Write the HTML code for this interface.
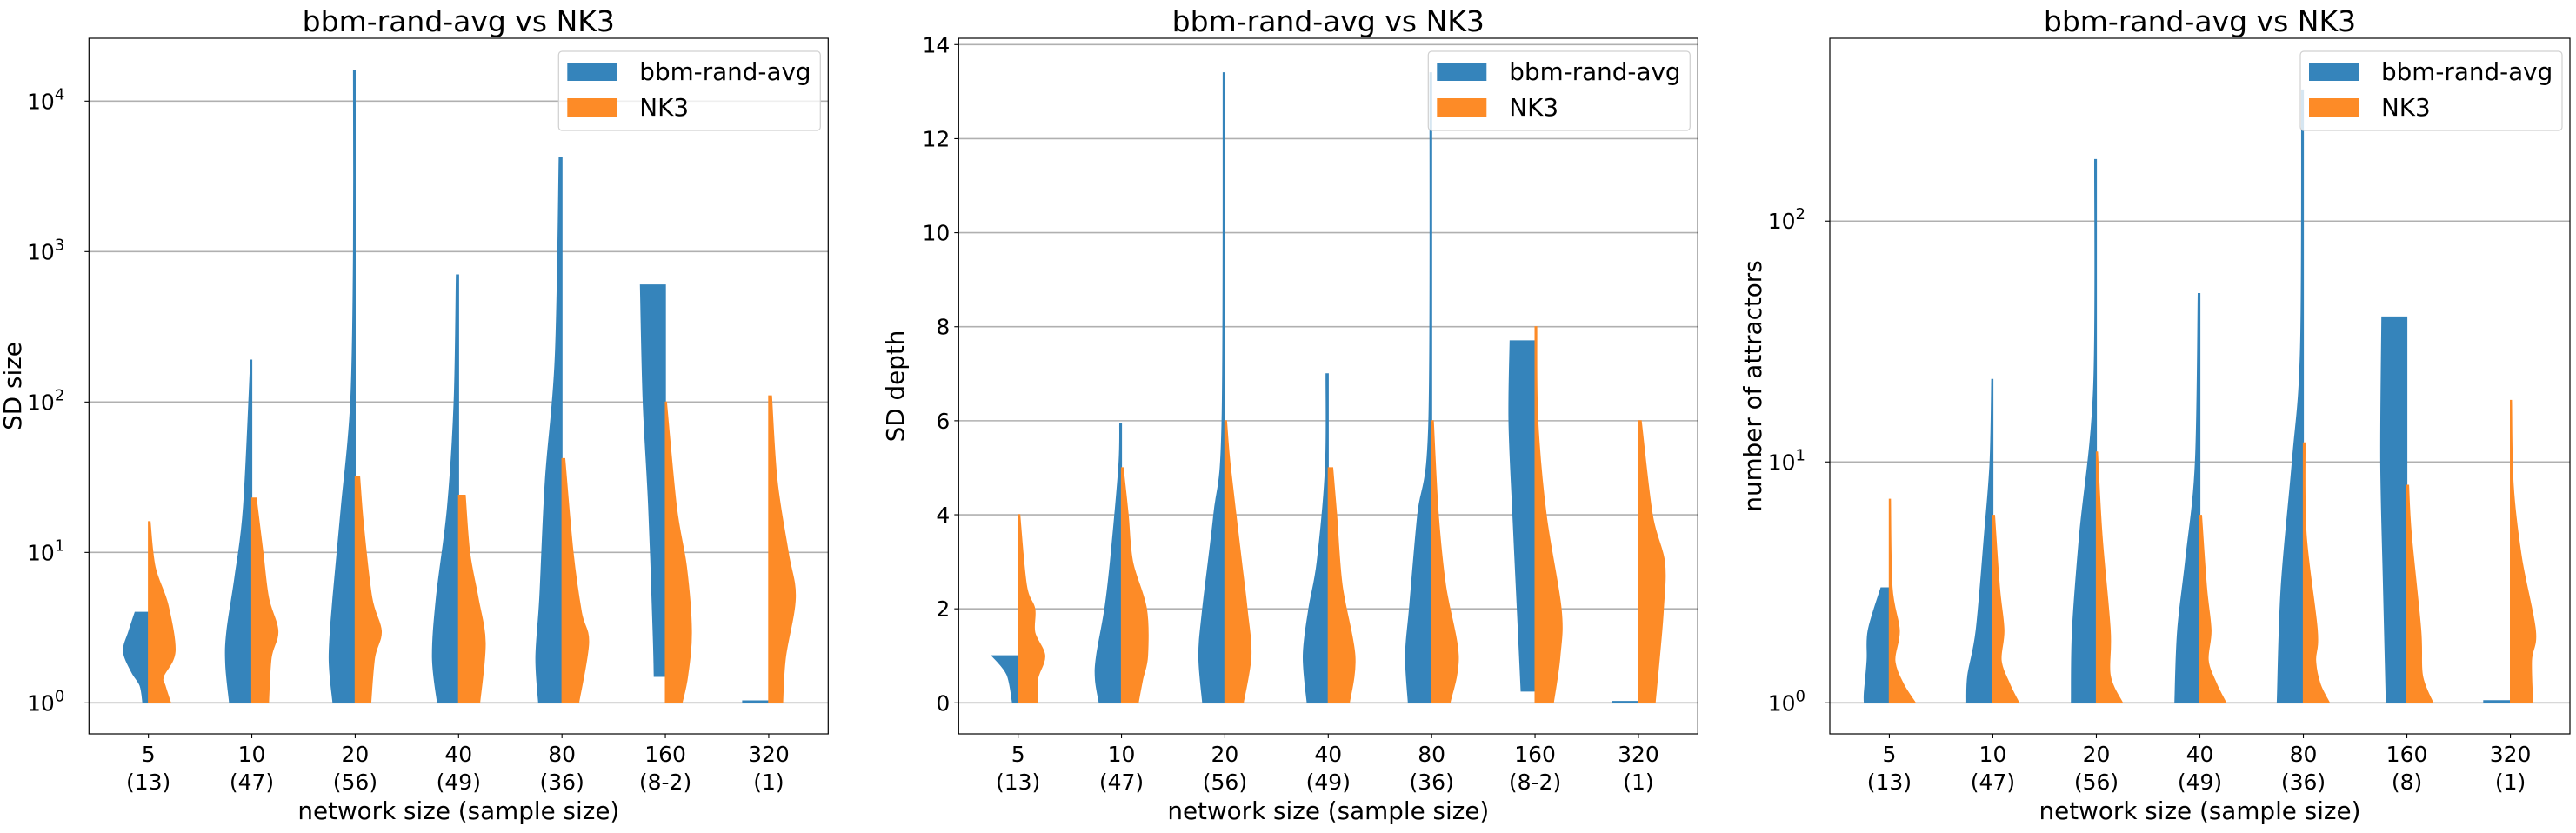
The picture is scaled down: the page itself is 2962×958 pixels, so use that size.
<!DOCTYPE html>
<html><head><meta charset="utf-8"><style>
body{margin:0;background:#fff;}
svg{display:block;font-family:"DejaVu Sans","Liberation Sans",sans-serif;}
</style></head><body>
<svg id="chart" width="2962" height="958" viewBox="0 0 2962 958" xmlns="http://www.w3.org/2000/svg"></svg>
<script>
const categories = ["5","10","20","40","80","160","320"];
const samplesA = ["(13)","(47)","(56)","(49)","(36)","(8-2)","(1)"];
const samplesC = ["(13)","(47)","(56)","(49)","(36)","(8)","(1)"];

// Panel 1: SD size (log)
const p1BlueVals = [[1,1.3,1.6,2.2,3,4],[1,1.8,3,7,20,190],[1,2,5,20,100,1000,16000],[1,2,5,20,100,700],[1,2,5,30,200,4200],[1.5,3,20,100,600],[1,1.03]];
const p1BlueDens = [[10,15,30,45,35,24],[40,47,45,30,15,2],[40,47,40,25,8,3,3],[38,47,40,20,8,4],[42,47,40,30,12,5],[20,22,30,40,45],[47,47]];
const p1OrangeVals = [[1,1.3,1.5,2.2,4.5,8,16],[1,2,3,5,10,23],[1,2,3,5,15,32],[1,2.5,5,10,24],[1,2.5,4,10,42],[1,1.5,3,8,20,100],[1,2,5,10,30,110]];
const p1OrangeDens = [[40,30,27,48,35,12,3],[30,35,47,30,20,8],[28,35,47,30,15,8],[38,48,35,20,12],[30,48,35,20,5],[30,40,47,38,20,2],[25,30,48,35,15,5]];

// Panel 2: SD depth (linear)
const p2BlueVals = [[0,0.6,1],[0,0.5,1,2,3,5,5.95],[0,1,2,4,6,13.4],[0,1,2,3,5,7],[0,1,2,4,6,13.4],[0.25,2,4,6,7.7],[0,0.03]];
const p2BlueDens = [[10,20,47],[40,47,45,30,20,5,3],[40,47,40,20,5,3],[38,45,35,20,5,4],[42,47,40,25,5,3],[25,32,40,47,45],[47,47]];
const p2OrangeVals = [[0,0.5,1,1.5,2,2.5,4],[0,0.5,1,2,3,4,5],[0,1,2,3,5,6],[0,1,2.5,4,5],[0,1,2.5,4,6],[0,1,2,4,6,8],[0,1,2,3,4,6]];
const p2OrangeDens = [[35,35,48,30,30,15,3],[30,38,47,45,20,12,3],[33,47,40,30,10,3],[38,48,25,15,8],[33,48,25,12,3],[33,45,47,20,5,3],[30,38,45,47,25,5]];

// Panel 3: number of attractors (log)
const p3BlueVals = [[1,1.1,1.5,2,3],[1,1.3,2,5,10,22],[1,2,5,20,180],[1,2,4,10,50],[1,3,10,30,350],[1,3,10,40],[1,1.02]];
const p3BlueDens = [[45,45,40,38,15],[47,45,30,15,5,2],[45,43,30,5,3],[45,40,25,8,3],[47,40,20,5,3],[37,42,47,45],[48,48]];
const p3OrangeVals = [[1,1.2,1.5,2,3,7],[1,1.2,1.5,2,3,6],[1,1.3,2,5,11],[1,1.2,1.5,2,3,6],[1,1.2,1.5,2,5,12],[1,1.3,2,5,8],[1,1.5,2,4,8,18]];
const p3OrangeDens = [[47,25,10,18,5,2],[47,30,15,20,12,3],[47,25,25,10,2],[47,30,15,20,12,3],[47,30,22,25,5,3],[47,28,25,8,3],[40,38,45,20,5,2]];

const p1Ticks = [0,1,2,3,4];
const p2Ticks = [0,2,4,6,8,10,12,14];
const p3Ticks = [0,1,2];

const NS = "http://www.w3.org/2000/svg";
const svg = document.getElementById("chart");
const BLUE = "#3584bb", ORANGE = "#fd8b27";
function mk(tag, attrs, parent){const e=document.createElementNS(NS,tag);for(const k in attrs)e.setAttribute(k,attrs[k]);(parent||svg).appendChild(e);return e;}

function smoothPath(pts){
  // Catmull-Rom through pts -> cubic Bezier commands (excluding initial M)
  let d="";
  for(let i=0;i<pts.length-1;i++){
    const p0=pts[Math.max(0,i-1)],p1=pts[i],p2=pts[i+1],p3=pts[Math.min(pts.length-1,i+2)];
    const c1=[p1[0]+(p2[0]-p0[0])/6,p1[1]+(p2[1]-p0[1])/6];
    const c2=[p2[0]-(p3[0]-p1[0])/6,p2[1]-(p3[1]-p1[1])/6];
    d+=` C${c1[0].toFixed(1)},${c1[1].toFixed(1)} ${c2[0].toFixed(1)},${c2[1].toFixed(1)} ${p2[0].toFixed(1)},${p2[1].toFixed(1)}`;
  }
  return d;
}

const TOP=44, BOT=844;
function panel(cfg){
  const g = mk("g",{});
  
  
  const L=cfg.left, R=cfg.right, W=R-L;
  const xmin=-0.575, xmax=6.575;
  const xs = i => L + (i - xmin)/(xmax-xmin)*W;
  const sp = W/(xmax-xmin);
  const ys = v => { const t = cfg.log ? Math.log10(v) : v; return BOT - (t - cfg.ymin)/(cfg.ymax-cfg.ymin)*(BOT-TOP); };
  cfg.ticks.forEach(t=>{
    const v = cfg.log ? Math.pow(10,t) : t;
    const y = ys(v);
    const gl = mk("line",{x1:L,x2:R,y1:y,y2:y,stroke:"#b0b0b0","stroke-width":1.6},g);
    
    
    mk("line",{x1:L-5,x2:L,y1:y,y2:y,stroke:"#000","stroke-width":1.1},g);
    const tx = mk("text",{x:L-10,y:y+9,"text-anchor":"end","font-size":25},g);
    
    
    if(cfg.log){
      tx.setAttribute("x", L-28);
      tx.textContent="10";
      const sup = mk("tspan",{"font-size":18,dy:-11},tx);
      sup.textContent=String(t);
    } else tx.textContent=String(t);
  });
  for(let i=0;i<7;i++){
    const cx = xs(i);
    [[cfg.bv[i],cfg.bd[i],-1,BLUE,'violin-blue-'+categories[i]],[cfg.ov[i],cfg.od[i],1,ORANGE,'violin-orange-'+categories[i]]].forEach(([vals,dens,dir,col,nm])=>{
      let pts=[];
      for(let k=0;k<vals.length;k++) pts.push([cx+dir*dens[k]/47*0.252*sp, ys(vals[k])]);
      const y0=ys(vals[0]), y1=ys(vals[vals.length-1]);
      const d = `M${cx.toFixed(1)},${y0.toFixed(1)} L${pts[0][0].toFixed(1)},${pts[0][1].toFixed(1)}` + smoothPath(pts) + ` L${cx.toFixed(1)},${y1.toFixed(1)} Z`;
      const p = mk("path",{d:d,fill:col,stroke:col,"stroke-width":1.2},g);
      
      
    });
    mk("line",{x1:cx,x2:cx,y1:BOT,y2:BOT+5,stroke:"#000","stroke-width":1.1},g);
    const t1 = mk("text",{x:cx,y:876,"text-anchor":"middle","font-size":25},g);
    
    
    t1.textContent=categories[i];
    const t2 = mk("text",{x:cx,y:908,"text-anchor":"middle","font-size":25},g);
    
    
    t2.textContent=cfg.samples[i];
  }
  const fr = mk("rect",{x:L,y:TOP,width:W,height:BOT-TOP,fill:"none",stroke:"#000","stroke-width":1.2},g);
  
  
  const ti = mk("text",{x:(L+R)/2,y:36,"text-anchor":"middle","font-size":33},g);
  
  
  ti.textContent="bbm-rand-avg vs NK3";
  const xl = mk("text",{x:(L+R)/2,y:942,"text-anchor":"middle","font-size":27.8},g);
  
  
  xl.textContent="network size (sample size)";
  const yl = mk("text",{x:0,y:0,"text-anchor":"middle","font-size":27.8,transform:`translate(${cfg.ylx},444) rotate(-90)`},g);
  
  
  yl.textContent=cfg.ylabel;
  const lg = mk("g",{},g);
  
  
  const lx = R-310;
  mk("rect",{x:lx,y:59,width:301,height:91,rx:4,fill:"#fff","fill-opacity":0.8,stroke:"#d0d0d0","stroke-width":1.2},lg);
  [["bbm-rand-avg",BLUE,72],["NK3",ORANGE,113]].forEach(([lab,col,y])=>{
    const e = mk("g",{},lg);
    
    
    mk("rect",{x:lx+10,y:y,width:57,height:21,fill:col},e);
    const t = mk("text",{x:lx+93,y:y+20,"font-size":27.8},e);
    t.textContent=lab;
  });
}
panel({name:"sd-size-panel",left:102.3,right:952.3,log:true,ymin:-0.206,ymax:4.418,ticks:p1Ticks,bv:p1BlueVals,bd:p1BlueDens,ov:p1OrangeVals,od:p1OrangeDens,samples:samplesA,ylabel:"SD size",ylx:24});
panel({name:"sd-depth-panel",left:1102.3,right:1952.3,log:false,ymin:-0.66,ymax:14.135,ticks:p2Ticks,bv:p2BlueVals,bd:p2BlueDens,ov:p2OrangeVals,od:p2OrangeDens,samples:samplesA,ylabel:"SD depth",ylx:1039});
panel({name:"attractors-panel",left:2104,right:2955,log:true,ymin:-0.129,ymax:2.759,ticks:p3Ticks,bv:p3BlueVals,bd:p3BlueDens,ov:p3OrangeVals,od:p3OrangeDens,samples:samplesC,ylabel:"number of attractors",ylx:2025});
</script>
</body></html>
